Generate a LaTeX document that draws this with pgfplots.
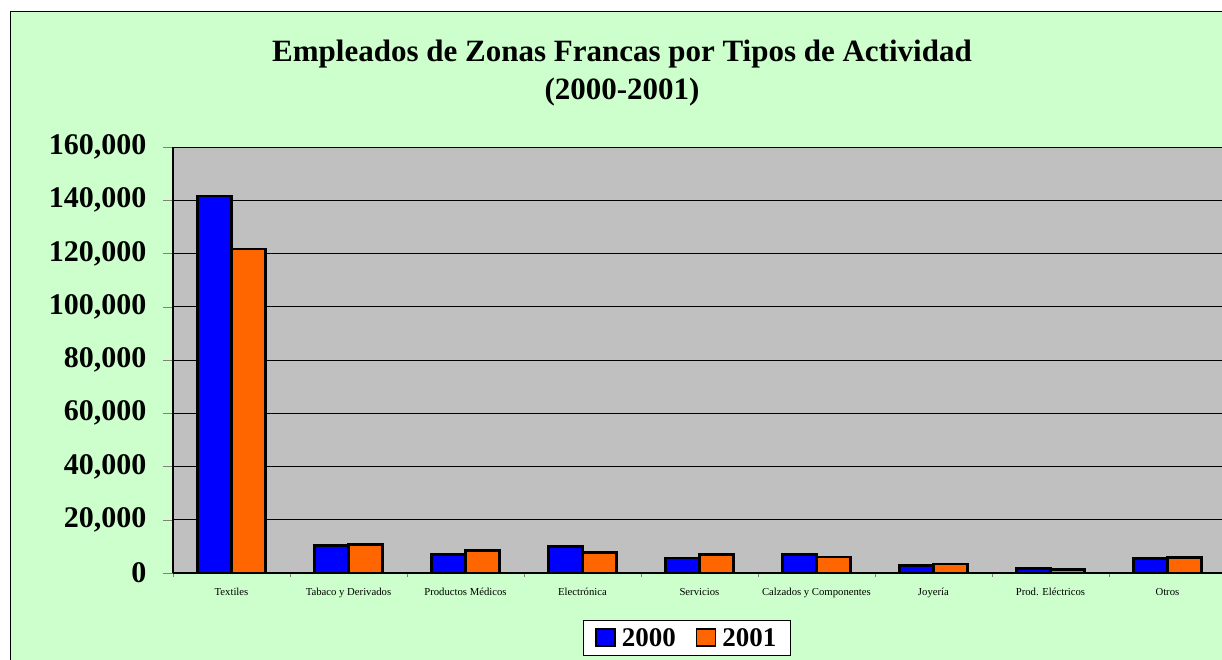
\documentclass[border=0pt]{standalone}
\usepackage{fontspec}
\setmainfont{Liberation Serif}
\usepackage{pgfplots}
\pgfplotsset{compat=1.18}
\definecolor{fondo}{RGB}{204,255,204}
\definecolor{area}{RGB}{192,192,192}
\definecolor{azul}{RGB}{0,0,255}
\definecolor{naranja}{RGB}{255,102,0}
\begin{document}
\begin{tikzpicture}
\useasboundingbox (0pt,0pt) rectangle (1222pt,660pt);
\clip (0pt,0pt) rectangle (1222pt,660pt);
\fill[white] (0pt,0pt) rectangle (1222pt,660pt);
\draw[fill=fondo, line width=1pt] (10pt,648pt) rectangle (1240pt,-20pt);
\begin{axis}[
  at={(173pt,87pt)}, anchor=south west,
  scale only axis, width=1053pt, height=426pt,
  ybar=0pt, bar width=0.29,
  xmin=-0.5, xmax=8.5, ymin=0, ymax=160000,
  xtick={0,...,8},
  xticklabels={Textiles, Tabaco y Derivados, Productos Médicos, Electrónica, Servicios, Calzados y Componentes, Joyería, Prod. Eléctricos, Otros},
  major x tick style={draw=none},
  minor xtick={-0.5,0.5,...,8.5},
  minor tick length=4pt,
  ytick={0,20000,40000,60000,80000,100000,120000,140000,160000},
  yticklabels={0,{20,000},{40,000},{60,000},{80,000},{100,000},{120,000},{140,000},{160,000}},
  major tick length=10pt,
  tick align=outside,
  scaled y ticks=false,
  ymajorgrids, grid style={black, line width=0.8pt},
  axis background/.style={fill=area},
  axis x line*=bottom, axis y line*=left,
  axis line style={black, line width=1.2pt, -},
  yticklabel style={font=\bfseries\fontsize{30}{30}\selectfont, xshift=-13pt},
  xticklabel style={font=\fontsize{10.7}{12}\selectfont, yshift=-2pt},
  legend style={at={(0.488,-0.110)}, anchor=north, legend columns=2,
    draw=black, line width=1pt, fill=white, inner xsep=12pt, inner ysep=6pt,
    font=\bfseries\fontsize{27}{30}\selectfont,
    /tikz/every odd column/.append style={column sep=4pt},
    /tikz/every even column/.append style={column sep=18pt}},
  legend image code/.code={\draw[#1, line width=1.5pt] (0pt,-8pt) rectangle (19pt,9pt);},
]
\addplot[fill=azul, draw=black, line width=2.8pt] coordinates {(0,141600) (1,10400) (2,7000) (3,10100) (4,5600) (5,7000) (6,2900) (7,1800) (8,5400)};
\addplot[fill=naranja, draw=black, line width=2.8pt] coordinates {(0,121700) (1,10600) (2,8400) (3,7800) (4,6800) (5,6000) (6,3400) (7,1400) (8,5700)};
\legend{2000,2001}
\end{axis}
\node[anchor=base, font=\bfseries\fontsize{31}{36}\selectfont] at (622pt,598pt) {Empleados de Zonas Francas por Tipos de Actividad};
\node[anchor=base, font=\bfseries\fontsize{31}{36}\selectfont] at (622pt,560pt) {(2000-2001)};
\end{tikzpicture}
\end{document}
